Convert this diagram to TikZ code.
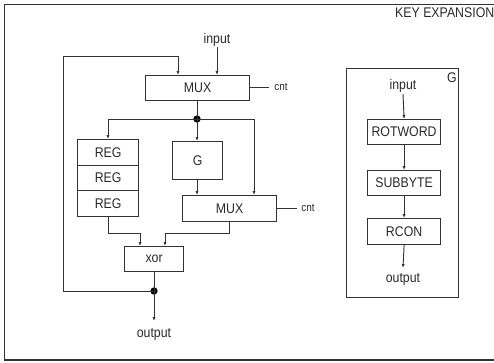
\documentclass[tikz,border=0pt]{standalone}
\usepackage{fontspec}
\setmainfont{Liberation Sans}[FakeStretch=0.88]
\usetikzlibrary{arrows.meta}
\definecolor{ln}{HTML}{333333}
\definecolor{tx}{HTML}{2A2A2A}
\tikzset{
  blk/.style={draw=ln, line width=0.9pt, inner sep=0pt, anchor=north west, text=tx, font=\fontsize{10.5}{12}\selectfont},
  wire/.style={draw=ln, line width=0.7pt},
  arr/.style={wire, -{Latex[length=3pt,width=2.4pt]}},
  lbl/.style={text=tx, inner sep=0pt, font=\fontsize{10.5}{12}\selectfont},
  small/.style={text=tx, inner sep=0pt, font=\fontsize{8.5}{10}\selectfont},
  dot/.style={circle, fill=black, inner sep=0pt, minimum size=5.5pt}
}
\begin{document}
\begin{tikzpicture}[x=0.75pt, y=-0.75pt]
\useasboundingbox (0,0) rectangle (494,362);
% outer frame
\draw[ln, line width=0.9pt] (500,4.5) -- (4.5,4.5) -- (4.5,360) -- (500,360);
\node[lbl, anchor=north east] (title) at (494.5,7) {KEY EXPANSION};

% main datapath
\node[lbl] (in1) at (217,40) {input};
\node[blk, minimum width=104pt*0.75, minimum height=25pt*0.75] (mux1) at (145,75) {MUX};
\node[small] (cnt1) at (281,87) {cnt};
\node[blk, minimum width=61pt*0.75, minimum height=26pt*0.75] (reg1) at (77,139) {REG};
\node[blk, minimum width=61pt*0.75, minimum height=25pt*0.75] (reg2) at (77,165) {REG};
\node[blk, minimum width=61pt*0.75, minimum height=26pt*0.75] (reg3) at (77,190) {REG};
\node[blk, minimum width=50pt*0.75, minimum height=38pt*0.75] (g) at (172,141) {G};
\node[blk, minimum width=94pt*0.75, minimum height=26pt*0.75] (mux2) at (182,195) {MUX};
\node[small] (cnt2) at (308,208) {cnt};
\node[blk, minimum width=59pt*0.75, minimum height=25pt*0.75] (xor) at (124,246) {xor};
\node[lbl] (out1) at (154,334) {output};
\node[dot] (j1) at (197,119) {};
\node[dot] (j2) at (154,291) {};
\coordinate (fb1) at (63,291);
\coordinate (fb2) at (63,56);

\draw[arr] (217,47) -- (217,75);
\draw[arr] (j2.center) -- (fb1) -- (fb2) -- (178,56) -- (178,75);
\draw[wire] (mux1.east |- cnt1) -- (269,87);
\draw[wire] (197,100) -- (j1.center);
\draw[arr] (j1.center) -- (108,119) -- (108,139);
\draw[arr] (j1.center) -- (197,141);
\draw[arr] (j1.center) -- (254,119) -- (254,195);
\draw[arr] (197,179) -- (197,195);
\draw[wire] (mux2.east |- cnt2) -- (297,208);
\draw[arr] (108,216) -- (108,233) -- (140,233) -- (140,246);
\draw[arr] (229,221) -- (229,233) -- (165,233) -- (165,246);
\draw[wire] (154,271) -- (j2.center);
\draw[arr] (j2.center) -- (154,321);

% G detail
\node[draw=ln, line width=0.9pt, anchor=north west, minimum width=112pt*0.75, minimum height=229pt*0.75, inner sep=0pt] (gbox) at (346,68) {};
\node[lbl] (gl) at (452,78) {G};
\node[lbl] (in2) at (403,86) {input};
\node[blk, minimum width=73pt*0.75, minimum height=25pt*0.75] (rot) at (367,119) {ROTWORD};
\node[blk, minimum width=73pt*0.75, minimum height=25pt*0.75] (sub) at (367,170) {SUBBYTE};
\node[blk, minimum width=73pt*0.75, minimum height=26pt*0.75] (rcon) at (367,218) {RCON};
\node[lbl] (out2) at (403,279) {output};
\draw[arr] (403,94) -- (rot.north);
\draw[arr] (rot.south) -- (sub.north);
\draw[arr] (sub.south) -- (rcon.north);
\draw[arr] (rcon.south) -- (403,268);
\end{tikzpicture}
\end{document}
